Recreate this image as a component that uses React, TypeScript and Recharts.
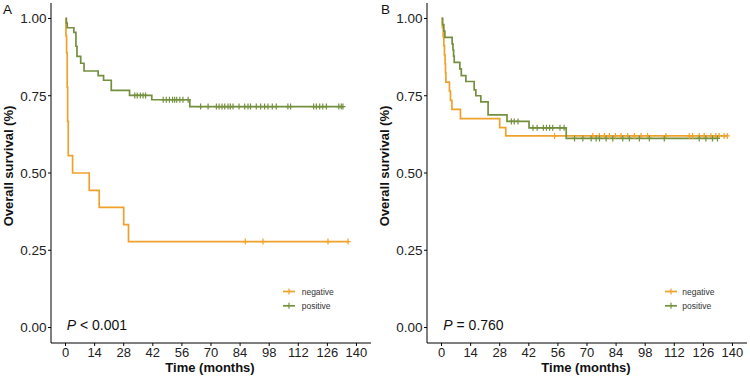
import React from "react";
import { LineChart, Line, XAxis, YAxis } from "recharts";

const monthTicks = [0, 14, 28, 42, 56, 70, 84, 98, 112, 126, 140];
const survTicks = [0, 0.25, 0.5, 0.75, 1];

// Panel A, negative group
const aNegTime = [0.2, 0.5, 0.8, 1.0, 1.3, 3.4, 11.4, 16.2, 28.0, 30.3];
const aNegSurv = [0.944, 0.889, 0.778, 0.667, 0.556, 0.5, 0.444, 0.389, 0.333, 0.278];
const aNegCensor = [86.5, 95.0, 126.3, 136.0];

// Panel A, positive group
const aPosTime = [0.4, 0.8, 4.0, 5.0, 5.5, 7.3, 8.9, 15.7, 18.3, 22.0, 30.8, 41.5, 59.8];
const aPosSurv = [0.985, 0.97, 0.955, 0.91, 0.877, 0.855, 0.83, 0.815, 0.8, 0.767, 0.751, 0.737, 0.715];
const aPosCensor = [
  33.3, 34.5, 36.0, 37.3, 38.5, 47.0, 48.5, 50.0, 51.5, 52.5, 53.5, 55.0, 56.5, 59.0,
  65.0, 68.6, 72.6, 73.9, 75.3, 76.6, 78.2, 79.3, 80.6, 83.5, 86.2, 87.8, 89.0, 91.8,
  93.9, 95.8, 97.4, 99.5, 101.4, 107.0, 108.3, 119.4, 120.7, 122.3, 123.8, 125.5,
  131.5, 132.7, 133.5,
];

// Panel B, negative group
const bNegTime = [0.4, 0.8, 1.1, 1.4, 1.7, 1.9, 2.1, 3.8, 4.3, 5.0, 9.1, 28.0, 30.9];
const bNegSurv = [0.971, 0.941, 0.912, 0.882, 0.853, 0.824, 0.794, 0.765, 0.735, 0.706, 0.676, 0.647, 0.62];
const bNegCensor = [
  54.4, 72.8, 76.0, 78.4, 80.8, 83.7, 86.4, 89.6, 92.8, 96.0, 99.2, 108.0, 119.2,
  120.8, 124.0, 126.4, 129.6, 132.0, 133.6, 136.0, 137.5,
];

// Panel B, positive group
const bPosTime = [0.5, 1.1, 1.6, 5.1, 5.5, 5.8, 6.1, 8.8, 9.5, 11.7, 15.7, 16.5, 18.9, 22.4, 31.5, 42.1, 60.0];
const bPosSurv = [0.98, 0.959, 0.939, 0.918, 0.898, 0.878, 0.858, 0.837, 0.815, 0.796, 0.769, 0.75, 0.73, 0.688, 0.667, 0.646, 0.612];
const bPosCensor = [
  33.6, 35.0, 36.8, 44.0, 46.0, 49.0, 50.5, 52.0, 53.5, 57.0, 59.0, 64.0, 68.0, 72.0,
  74.4, 76.0, 79.2, 82.4, 87.2, 90.4, 95.2, 100.0, 107.2, 124.0, 127.2, 130.4, 132.8,
];

const ORANGE = "#F0A12C";
const GREEN = "#74903F";
const FONT = "'Liberation Sans', Arial, sans-serif";

type Pt = { t: number; s: number; c: boolean };

function curve(times: number[], surv: number[], censor: number[]): Pt[] {
  const pts: Pt[] = [{ t: 0, s: 1, c: false }];
  times.forEach((t, i) => pts.push({ t, s: surv[i], c: false }));
  censor.forEach((t) => {
    let s = 1;
    times.forEach((e, i) => {
      if (e <= t) s = surv[i];
    });
    pts.push({ t, s, c: true });
  });
  return pts.sort((a, b) => a.t - b.t);
}

const crossDot = (color: string) => (props: any) => {
  const { cx, cy, payload, index } = props;
  if (!payload || !payload.c) return <g key={`n${index}`} />;
  return (
    <path
      key={`c${index}`}
      d={`M${cx - 2.5},${cy}h5M${cx},${cy - 3}v6`}
      stroke={color}
      strokeWidth={1.2}
      fill="none"
    />
  );
};

function Panel({ neg, pos }: { neg: Pt[]; pos: Pt[] }) {
  return (
    <LineChart width={375} height={377} margin={{ top: 3, right: 4, bottom: 14, left: 11 }}>
      <XAxis
        type="number"
        dataKey="t"
        domain={[-7, 147]}
        ticks={monthTicks}
        interval={0}
        allowDataOverflow
        height={20}
        tickSize={3}
        tickMargin={1.5}
        tick={{ fontSize: 13, fill: "#222", fontFamily: FONT }}
        axisLine={{ stroke: "#000", strokeWidth: 1 }}
        tickLine={{ stroke: "#000" }}
        label={{
          content: () => (
            <text x={210} y={371.5} textAnchor="middle" fontSize={13} fontWeight="bold" fontFamily={FONT} fill="#111">
              Time (months)
            </text>
          ),
        }}
      />
      <YAxis
        type="number"
        domain={[-0.05, 1.05]}
        ticks={survTicks}
        interval={0}
        allowDataOverflow
        width={40}
        tickSize={3}
        tickMargin={1.5}
        tickFormatter={(v: number) => v.toFixed(2)}
        tick={{ fontSize: 13.5, fill: "#222", fontFamily: FONT }}
        axisLine={{ stroke: "#000", strokeWidth: 1 }}
        tickLine={{ stroke: "#000" }}
        label={{
          content: () => (
            <text
              x={13}
              y={166}
              transform="rotate(-90 13 166)"
              textAnchor="middle"
              fontSize={13}
              fontWeight="bold"
              fontFamily={FONT}
              fill="#111"
            >
              Overall survival (%)
            </text>
          ),
        }}
      />
      <Line
        data={neg}
        dataKey="s"
        type="stepAfter"
        stroke={ORANGE}
        strokeWidth={1.7}
        dot={crossDot(ORANGE)}
        activeDot={false}
        isAnimationActive={false}
      />
      <Line
        data={pos}
        dataKey="s"
        type="stepAfter"
        stroke={GREEN}
        strokeWidth={1.7}
        dot={crossDot(GREEN)}
        activeDot={false}
        isAnimationActive={false}
      />
    </LineChart>
  );
}

function LegendKeys({ keyX, textX }: { keyX: number; textX: number }) {
  const rows = [
    { label: "negative", color: ORANGE, y: 291.5 },
    { label: "positive", color: GREEN, y: 305.8 },
  ];
  return (
    <g>
      {rows.map((r) => (
        <g key={r.label}>
          <line x1={keyX} x2={keyX + 12} y1={r.y} y2={r.y} stroke={r.color} strokeWidth={1.7} />
          <path d={`M${keyX + 6},${r.y - 3}v6`} stroke={r.color} strokeWidth={1.2} />
          <text x={textX} y={r.y + 3} fontSize={8.5} fontFamily={FONT} fill="#333">
            {r.label}
          </text>
        </g>
      ))}
    </g>
  );
}

export default function App() {
  const aNeg = curve(aNegTime, aNegSurv, aNegCensor);
  const aPos = curve(aPosTime, aPosSurv, aPosCensor);
  const bNeg = curve(bNegTime, bNegSurv, bNegCensor);
  const bPos = curve(bPosTime, bPosSurv, bPosCensor);

  return (
    <div style={{ position: "absolute", left: 0, top: 0, width: 750, height: 377, background: "#fff", overflow: "hidden" }}>
      <div style={{ position: "absolute", left: 0, top: 0 }}>
        <Panel neg={aNeg} pos={aPos} />
      </div>
      <div style={{ position: "absolute", left: 376, top: 0 }}>
        <Panel neg={bNeg} pos={bPos} />
      </div>
      <svg width={750} height={377} style={{ position: "absolute", left: 0, top: 0, pointerEvents: "none" }}>
        <text x={3} y={13.5} fontSize={13.5} fontFamily={FONT} fill="#111">A</text>
        <text x={381} y={13.5} fontSize={13.5} fontFamily={FONT} fill="#111">B</text>
        <text x={66.7} y={330} fontSize={14} fontFamily={FONT} fill="#111">
          <tspan fontStyle="italic">P</tspan> &lt; 0.001
        </text>
        <text x={443.3} y={330} fontSize={14} fontFamily={FONT} fill="#111">
          <tspan fontStyle="italic">P</tspan> = 0.760
        </text>
        <LegendKeys keyX={283} textX={301.7} />
        <LegendKeys keyX={665} textX={682.3} />
      </svg>
    </div>
  );
}
